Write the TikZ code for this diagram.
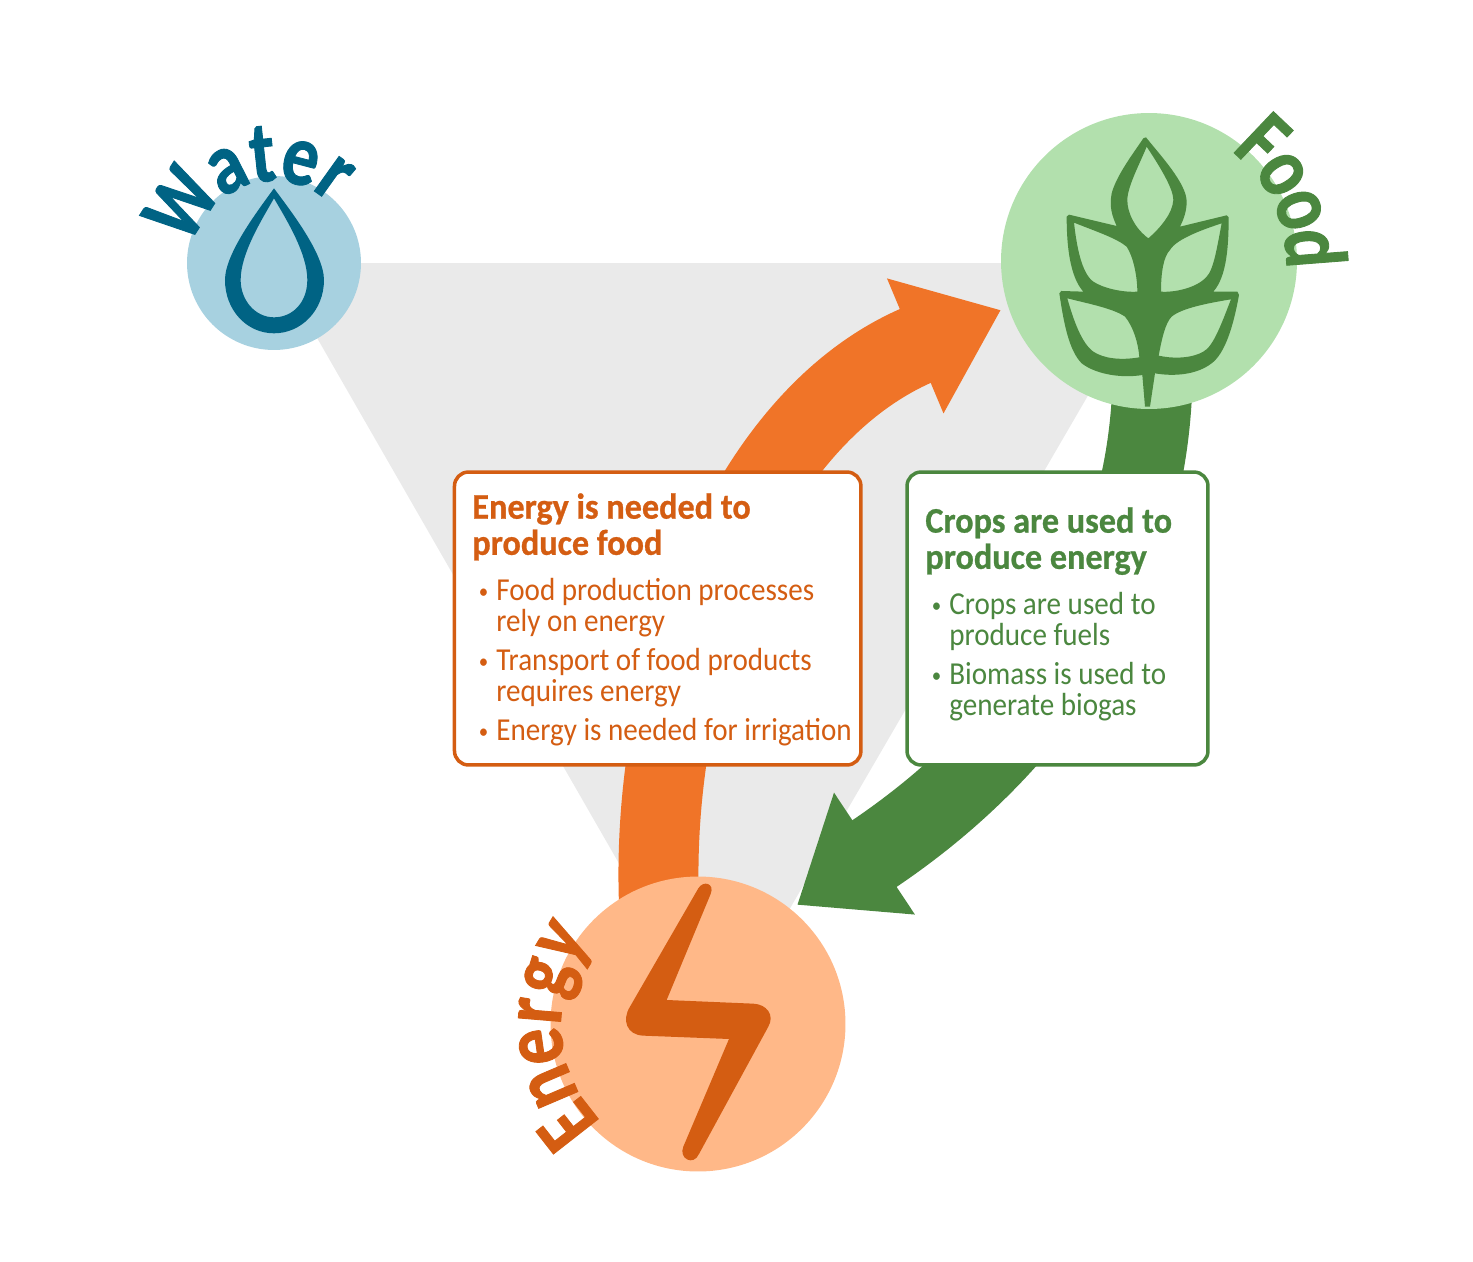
\documentclass[tikz,border=0pt]{standalone}
\usepackage{fontspec}
\usetikzlibrary{arrows.meta,backgrounds,decorations.text}
\newfontfamily\boxfont[FakeStretch=.91]{Carlito}
\newfontfamily\headfont[FakeStretch=.95,BoldFeatures={FakeBold=.7}]{Carlito}
\newfontfamily\arcfont[FakeStretch=.82,BoldFeatures={FakeBold=1}]{Carlito}

\definecolor{tri}{HTML}{EAEAEA}
\definecolor{waterlight}{HTML}{A7D1E0}
\definecolor{waterdark}{HTML}{006384}
\definecolor{foodlight}{HTML}{B2E0AD}
\definecolor{fooddark}{HTML}{4B873F}
\definecolor{energylight}{HTML}{FFB888}
\definecolor{energydark}{HTML}{D45D12}
\definecolor{energyarrow}{HTML}{F07428}

\tikzset{
  hub/.style={circle, inner sep=0pt, outer sep=0pt, fill=#1},
  fat/.style={draw=#1, line width=1.6cm, -{Triangle[length=1.86cm,width=2.8cm,fill=#1]}},
  infobox/.style={rectangle, rounded corners=.28cm, fill=white, draw=#1, line width=.07cm, inner sep=0pt, outer sep=0pt, minimum height=5.86cm},
  head/.style={anchor=north west, inner sep=0pt, align=left, text=#1, font=\headfont\bfseries\fontsize{20.5}{20.6}\selectfont},
  item/.style={anchor=north west, inner sep=0pt, align=left, text=#1, font=\boxfont\fontsize{18.2}{17.4}\selectfont},
  arcword/.style n args={3}{decorate, decoration={text along path, text={|\arcfont\bfseries\fontsize{50}{50}\selectfont|#1}, text color=#2, text align=fit to path, raise=#3}},
}
\newcommand{\itm}{\llap{\raisebox{.15ex}{\scalebox{.65}{•}}\hspace{.16cm}}}

\begin{document}
\begin{tikzpicture}[x=0.02cm,y=-0.02cm]
  \useasboundingbox (0,0) rectangle (1473,1261);

  \node[hub=waterlight, minimum size=3.48cm] (water) at (274,263) {};
  \node[hub=foodlight, minimum size=5.92cm] (food) at (1149,261) {};
  \node[hub=energylight, minimum size=5.9cm] (energy) at (698,1024) {};
  \coordinate (foodtip) at (1001,310);
  \coordinate (energytip) at (797,905);

  \begin{pgfonlayer}{background}
    \fill[tri] (274,263) -- (1165,263) -- (717,1034) -- cycle;
    \draw[fat=energyarrow] ([xshift=.04cm,yshift=-.6cm]energy.106) .. controls (648,680) and (743,418) .. (foodtip);
    \draw[fat=fooddark] ([xshift=.06cm,yshift=.3cm]food.south) .. controls (1142,600) and (1020,757) .. (energytip);
  \end{pgfonlayer}

  % drop
  \begin{scope}[shift={(130,120)},scale=.3333]
    \fill[waterdark, even odd rule] (432,205) .. controls (480,270) and (582,400) .. (582,480)
      .. controls (582,570) and (515,640) .. (432,640) .. controls (350,640) and (285,570) .. (285,480)
      .. controls (285,400) and (385,270) .. (432,205) -- cycle
      (432,235) .. controls (470,300) and (532,400) .. (532,480)
      .. controls (532,545) and (490,592) .. (432,592) .. controls (375,592) and (332,540) .. (332,480)
      .. controls (332,400) and (395,300) .. (432,235) -- cycle;
  \end{scope}

  % plant
  \begin{scope}[shift={(1000,100)},scale=.3333]
    \fill[fooddark, even odd rule] (438,112) .. controls (480,165) and (560,250) .. (560,305)
      .. controls (560,335) and (550,360) .. (540,380) -- (680,346) -- (686,352)
      .. controls (686,440) and (680,530) .. (640,575) -- (712,575) -- (717,585)
      .. controls (700,680) and (675,760) .. (635,790) .. controls (590,825) and (520,830) .. (465,820)
      -- (450,920) -- (435,920) -- (427,825)
      .. controls (370,835) and (290,825) .. (245,790) .. controls (205,750) and (190,660) .. (178,580) -- (184,573)
      -- (250,575) .. controls (210,530) and (200,440) .. (200,350) -- (207,344)
      -- (350,378) .. controls (335,345) and (328,320) .. (335,280)
      .. controls (350,225) and (400,160) .. (430,115) -- cycle
      (440,140) .. controls (490,215) and (520,270) .. (520,300)
      .. controls (518,340) and (480,385) .. (445,415) .. controls (405,385) and (382,340) .. (382,300)
      .. controls (382,260) and (420,190) .. (440,140) -- cycle
      (665,370) .. controls (650,450) and (640,510) .. (620,530) .. controls (590,565) and (520,578) .. (483,575)
      .. controls (483,520) and (490,470) .. (510,450) .. controls (530,415) and (620,385) .. (665,370) -- cycle
      (222,368) .. controls (290,395) and (350,415) .. (380,440) .. controls (400,470) and (412,530) .. (412,575)
      .. controls (370,578) and (310,565) .. (280,545) .. controls (245,520) and (230,440) .. (222,368) -- cycle
      (693,598) .. controls (665,670) and (640,740) .. (610,755) .. controls (570,778) and (510,775) .. (476,767)
      .. controls (485,720) and (495,670) .. (515,650) .. controls (545,625) and (620,610) .. (693,598) -- cycle
      (202,595) .. controls (260,610) and (340,625) .. (375,650) .. controls (400,680) and (415,730) .. (418,772)
      .. controls (360,782) and (310,775) .. (280,755) .. controls (245,730) and (220,660) .. (202,595) -- cycle;
  \end{scope}

  % bolt
  \begin{scope}[shift={(520,870)},scale=.3333]
    \fill[energydark] (535,55) -- (330,410) .. controls (305,450) and (320,495) .. (370,497)
      -- (627,507) -- (490,830) .. controls (475,865) and (520,890) .. (537,852)
      -- (745,470) .. controls (765,435) and (740,403) .. (700,401)
      -- (440,390) -- (572,72) .. controls (585,40) and (550,30) .. (535,55) -- cycle;
  \end{scope}

  \path[arcword={Water}{waterdark}{-.62cm}] (water.center) ++(196:113) arc[start angle=196,end angle=312,radius=113];
  \path[arcword={Food}{fooddark}{-.7cm}] (food.center) ++(-52:172) arc[start angle=-52,end angle=2,radius=172];
  \path[arcword={Energy}{energydark}{-.62cm}] (energy.center) ++(136:168) arc[start angle=136,end angle=217,radius=168];

  \node[infobox=energydark, minimum width=8.13cm] (ebox) at (657.7,618.5) {};
  \node[infobox=fooddark, minimum width=6.02cm] (cbox) at (1057.5,618.5) {};

  \node[head=energydark] (ehead) at (472,493) {Energy is needed to\\produce food};
  \node[item=energydark] (e1) at (496,578) {\itm Food production processes\\rely on energy};
  \node[item=energydark] (e2) at (496,648) {\itm Transport of food products\\requires energy};
  \node[item=energydark] (e3) at (496,718) {\itm Energy is needed for irrigation};

  \node[head=fooddark] (chead) at (925,507) {Crops are used to\\produce energy};
  \node[item=fooddark] (c1) at (949,592) {\itm Crops are used to\\produce fuels};
  \node[item=fooddark] (c2) at (949,662) {\itm Biomass is used to\\generate biogas};
\end{tikzpicture}
\end{document}
